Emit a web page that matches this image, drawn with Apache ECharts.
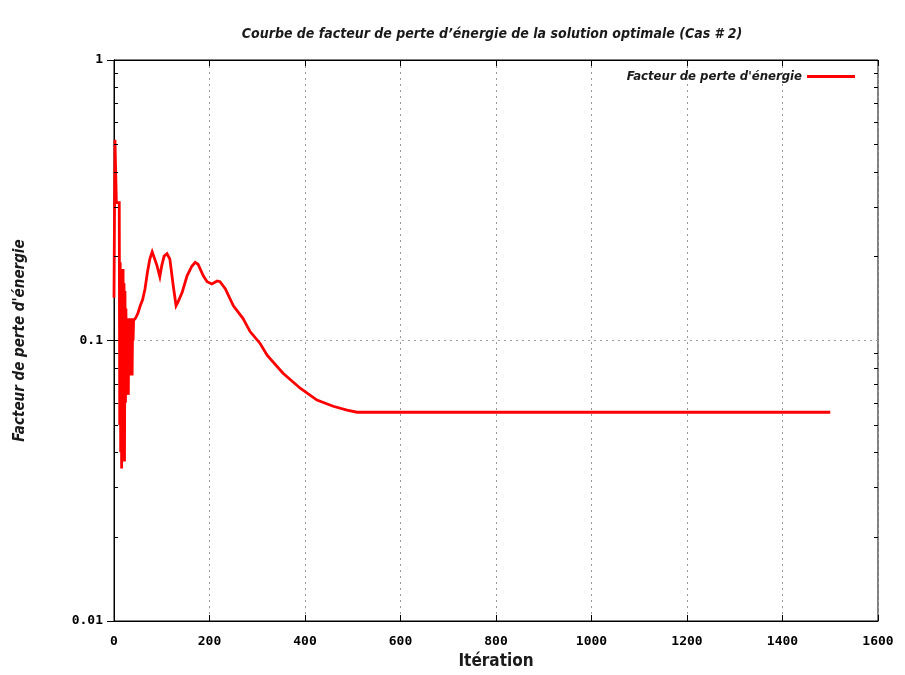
<!DOCTYPE html>
<html>
<head>
<meta charset="utf-8">
<title>Facteur de perte d'énergie</title>
<script src="https://cdn.jsdelivr.net/npm/echarts@6/dist/echarts.min.js"></script>
<style>
  html, body { margin: 0; padding: 0; background: #ffffff; }
  #graphe { width: 905px; height: 675px; }
</style>
</head>
<body>
<div id="graphe"></div>
<script>
// Itérations et facteur de perte d'énergie de la meilleure solution
const iterations = [
  0, 2, 4, 5, 11, 12, 13, 14, 15, 16, 17, 18, 19, 20, 21, 22, 23, 24, 25, 26,
  27, 28, 29, 30, 31, 32, 33, 34, 35, 36, 37, 38, 39, 40, 41, 45, 50, 55, 60, 65,
  70, 75, 80, 84, 90, 96, 100, 105, 111, 117, 124, 130, 134, 143, 153, 163, 170, 176, 187, 195,
  205, 216, 222, 233, 250, 270, 285, 306, 321, 354, 390, 425, 459, 488, 509, 1500
];
const facteurPerte = [
  0.142, 0.52, 0.52, 0.31, 0.31, 0.05, 0.19, 0.04, 0.18, 0.035, 0.17, 0.06, 0.18, 0.045, 0.16, 0.037, 0.15, 0.06, 0.13, 0.07,
  0.12, 0.08, 0.12, 0.064, 0.12, 0.08, 0.12, 0.075, 0.12, 0.09, 0.12, 0.075, 0.12, 0.1, 0.118, 0.12, 0.125, 0.133, 0.14, 0.153,
  0.175, 0.195, 0.207, 0.205, 0.185, 0.169, 0.185, 0.2, 0.204, 0.195, 0.157, 0.133, 0.137, 0.149, 0.17, 0.184, 0.19, 0.187, 0.17, 0.162,
  0.159, 0.163, 0.162, 0.153, 0.133, 0.12, 0.1076, 0.0976, 0.0885, 0.0764, 0.0676, 0.0613, 0.0583, 0.0565, 0.0555, 0.0555
];

// Graduations secondaires de l'axe logarithmique (2..9 par décade)
const graduationsMineures = [0.02, 0.03, 0.04, 0.05, 0.06, 0.07, 0.08, 0.09, 0.2, 0.3, 0.4, 0.5, 0.6, 0.7, 0.8, 0.9];

const titre = "Courbe de facteur de perte d\u2019énergie de la solution optimale (Cas # 2)";
const nomSerie = "Facteur de perte d'énergie";
const nomAxeX = "Itération";
const nomAxeY = "Facteur de perte d'énergie";

const policeEtroite = '"Liberation Sans Narrow", "DejaVu Sans Condensed", "Liberation Sans", sans-serif';
const policeChiffres = '"DejaVu Sans Mono", "Liberation Mono", monospace';

const points = iterations.map((it, i) => [it, facteurPerte[i]]);

const graphe = echarts.init(document.getElementById('graphe'), null, { renderer: 'canvas' });

const axeXCommun = {
  type: 'value',
  min: 0,
  max: 1600,
  interval: 200,
  axisLine: { show: true, lineStyle: { color: '#000', width: 1 } },
  axisTick: { show: true, inside: true, length: 6, lineStyle: { color: '#000' } }
};
const axeYCommun = {
  type: 'log',
  logBase: 10,
  min: 0.01,
  max: 1,
  axisLine: { show: true, lineStyle: { color: '#000', width: 1 } },
  axisTick: { show: true, inside: true, length: 7, lineStyle: { color: '#000' } }
};

graphe.setOption({
  animation: false,
  backgroundColor: '#ffffff',
  title: {
    text: titre,
    left: 487,
    top: 22,
    textAlign: 'center',
    textStyle: { fontFamily: policeEtroite, fontStyle: 'italic', fontWeight: 'bold', fontSize: 14, color: '#1a1a1a' }
  },
  legend: {
    data: [nomSerie],
    right: 45,
    top: 65,
    align: 'right',
    itemWidth: 48,
    itemHeight: 3,
    itemGap: 10,
    icon: 'rect',
    textStyle: { fontFamily: policeEtroite, fontStyle: 'italic', fontWeight: 'bold', fontSize: 13, color: '#1a1a1a' }
  },
  grid: {
    left: 114,
    right: 27,
    top: 60,
    bottom: 50,
    show: true,
    borderColor: '#000',
    borderWidth: 1,
    containLabel: false
  },
  xAxis: [
    Object.assign({}, axeXCommun, {
      position: 'bottom',
      name: nomAxeX,
      nameLocation: 'middle',
      nameGap: 32,
      nameTextStyle: { fontFamily: policeEtroite, fontWeight: 'bold', fontSize: 17, color: '#1a1a1a' },
      axisLabel: {
        margin: 14,
        fontFamily: policeChiffres,
        fontWeight: 'bold',
        fontSize: 13,
        color: '#000',
        formatter: v => String(v)
      },
      splitLine: { show: true, lineStyle: { color: '#999', width: 1, type: [2, 4] } }
    }),
    Object.assign({}, axeXCommun, {
      position: 'top',
      axisLabel: { show: false },
      splitLine: { show: false }
    })
  ],
  yAxis: [
    Object.assign({}, axeYCommun, {
      position: 'left',
      name: nomAxeY,
      nameLocation: 'middle',
      nameGap: 86,
      nameTextStyle: { fontFamily: policeEtroite, fontStyle: 'italic', fontWeight: 'bold', fontSize: 15, color: '#1a1a1a' },
      axisLabel: { margin: 11, fontFamily: policeChiffres, fontWeight: 'bold', fontSize: 13, color: '#000' },
      splitLine: { show: true, lineStyle: { color: '#999', width: 1, type: [2, 4] } }
    }),
    Object.assign({}, axeYCommun, {
      position: 'right',
      axisLabel: { show: false },
      splitLine: { show: false }
    })
  ],
  series: [
    {
      name: nomSerie,
      type: 'line',
      xAxisIndex: 0,
      yAxisIndex: 0,
      data: points,
      showSymbol: false,
      symbol: 'none',
      lineStyle: { color: '#ff0000', width: 2.8, join: 'miter' },
      itemStyle: { color: '#ff0000' },
      z: 3
    },
    {
      // graduations secondaires sur les bords gauche et droit du cadre
      name: 'graduations',
      type: 'custom',
      xAxisIndex: 0,
      yAxisIndex: 0,
      silent: true,
      data: graduationsMineures.map(v => [0, v]),
      renderItem: function (params, api) {
        const v = api.value(1);
        const g = api.coord([0, v]);
        const d = api.coord([1600, v]);
        const style = { stroke: '#000', lineWidth: 1 };
        return {
          type: 'group',
          children: [
            { type: 'line', shape: { x1: g[0], y1: Math.round(g[1]) + 0.5, x2: g[0] + 4, y2: Math.round(g[1]) + 0.5 }, style: style },
            { type: 'line', shape: { x1: d[0] - 4, y1: Math.round(d[1]) + 0.5, x2: d[0], y2: Math.round(d[1]) + 0.5 }, style: style }
          ]
        };
      },
      z: 4
    }
  ]
});
</script>
</body>
</html>
